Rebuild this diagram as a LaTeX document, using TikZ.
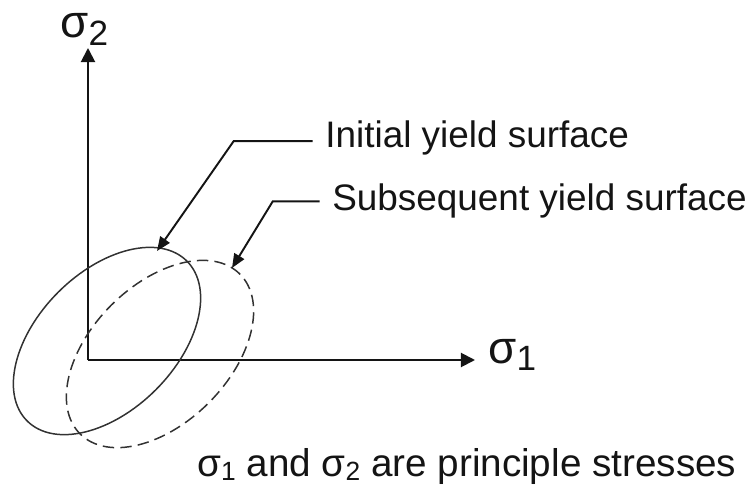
\documentclass[tikz,border=0pt]{standalone}
\usepackage{fontspec}
\setmainfont{Liberation Sans}
\usepackage{tikz}
\usetikzlibrary{arrows.meta, positioning, calc}
\definecolor{mydark}{RGB}{20,20,20}
\definecolor{mygray}{RGB}{50,50,50}
\newcommand{\axsub}[1]{\raisebox{-4pt}{\fontsize{20}{20}\selectfont #1}}
\newcommand{\txtsub}[1]{\raisebox{-2.5pt}{\fontsize{15}{15}\selectfont #1}}
\tikzset{
  axis/.style={-{Triangle[length=8pt, width=8pt]}, line width=1.1pt, color=mydark},
  leader/.style={-{Triangle[length=8pt, width=6.5pt]}, line width=1.1pt, color=mydark},
  yieldline/.style={line width=0.85pt, color=mygray},
  label/.style={anchor=base west, inner sep=0pt, font=\fontsize{21}{25}\selectfont, text=mydark},
  axlabel/.style={anchor=base west, inner sep=0pt, font=\fontsize{26}{30}\selectfont, text=mydark}
}

\begin{document}
\begin{tikzpicture}[x=0.02cm, y=0.02cm]
  \useasboundingbox (0,0) rectangle (754,494);

  % Axes
  \coordinate (O) at (88,134);
  \coordinate (s1tip) at (475,134);
  \coordinate (s2tip) at (88,446);
  \draw[axis] (O) -- (s1tip);
  \draw[axis] (O) -- (s2tip);
  \node[axlabel] (lblS1) at (488,131) {σ\axsub{1}};
  \node[axlabel] (lblS2) at (60,456) {σ\axsub{2}};

  % Yield surfaces
  \draw[yieldline] (107,153) ellipse [x radius=113, y radius=69, rotate=45];
  \draw[yieldline, dash pattern=on 6.5pt off 3.5pt] (160,140) ellipse [x radius=113, y radius=69, rotate=45];

  % Labels with leaders
  \node[label] (lblInit) at (325,346) {Initial yield surface};
  \node[label] (lblSubs) at (332,283) {Subsequent yield surface};
  \coordinate (initTip) at (157,243);
  \coordinate (subsTip) at (232,226);
  \draw[leader] ([xshift=-7pt, yshift=-1.5pt]lblInit.west) -- ++(-79,0) -- (initTip);
  \draw[leader] ([xshift=-7pt]lblSubs.west) -- ++(-47,0) -- (subsTip);

  % Note
  \node[label, font=\fontsize{22}{26}\selectfont] (note) at (197,18) {σ\txtsub{1} and σ\txtsub{2} are principle stresses};
\end{tikzpicture}
\end{document}
